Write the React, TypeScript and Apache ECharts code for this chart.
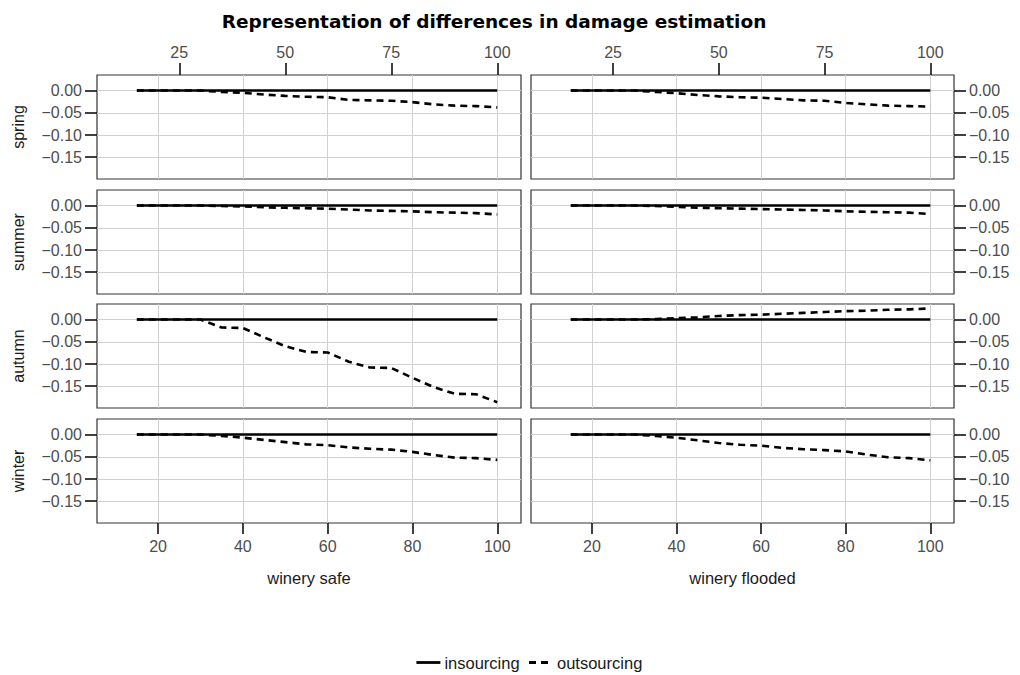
import React, { useEffect, useRef } from 'react';
import * as echarts from 'echarts';

const xValues = [15, 20, 25, 30, 35, 40, 45, 50, 55, 60, 65, 70, 75, 80, 85, 90, 95, 100];
const seasons = ['spring', 'summer', 'autumn', 'winter'];
const facets = ['winery safe', 'winery flooded'];
const seriesNames = ['insourcing', 'outsourcing'];

const insourcing = [0, 0, 0, 0, 0, 0, 0, 0, 0, 0, 0, 0, 0, 0, 0, 0, 0, 0];

const springSafe = [0, 0, 0, 0, -0.003, -0.005, -0.009, -0.012, -0.014, -0.015, -0.021, -0.022, -0.023, -0.026, -0.031, -0.034, -0.035, -0.038];
const springFlooded = [0, 0, 0, 0, -0.003, -0.006, -0.010, -0.013, -0.015, -0.016, -0.019, -0.022, -0.023, -0.028, -0.031, -0.034, -0.035, -0.036];
const summerSafe = [0, 0, 0, 0, -0.001, -0.002, -0.004, -0.005, -0.006, -0.007, -0.009, -0.011, -0.012, -0.013, -0.015, -0.016, -0.017, -0.020];
const summerFlooded = [0, 0, 0, 0, -0.001, -0.003, -0.005, -0.006, -0.007, -0.008, -0.009, -0.010, -0.011, -0.013, -0.014, -0.015, -0.016, -0.019];
const autumnSafe = [0, 0, 0, 0, -0.018, -0.019, -0.040, -0.060, -0.073, -0.074, -0.095, -0.108, -0.109, -0.131, -0.152, -0.167, -0.168, -0.186];
const autumnFlooded = [0, 0, 0, 0, 0.001, 0.003, 0.005, 0.008, 0.010, 0.011, 0.013, 0.015, 0.017, 0.019, 0.020, 0.022, 0.023, 0.025];
const winterSafe = [0, 0, 0, 0, -0.003, -0.007, -0.012, -0.017, -0.022, -0.024, -0.029, -0.032, -0.034, -0.039, -0.046, -0.052, -0.053, -0.057];
const winterFlooded = [0, 0, 0, 0, -0.003, -0.007, -0.013, -0.019, -0.023, -0.025, -0.030, -0.033, -0.035, -0.038, -0.045, -0.051, -0.053, -0.058];

const outsourcing = [
  [springSafe, springFlooded],
  [summerSafe, summerFlooded],
  [autumnSafe, autumnFlooded],
  [winterSafe, winterFlooded],
];

const xTicksBottom = [20, 40, 60, 80, 100];
const xTicksTop = [25, 50, 75, 100];
const yTicks = [0, -0.05, -0.1, -0.15];

const X_MIN = 5.6;
const X_MAX = 105.6;
const Y_MIN = -0.199;
const Y_MAX = 0.035;

const FONT = '"Liberation Sans", Arial, sans-serif';

const fmtY = (v: number) => (v < 0 ? '\u2212' : '') + Math.abs(v).toFixed(2);

export default function App() {
  const ref = useRef<HTMLDivElement>(null);
  useEffect(() => {
    document.body.style.margin = '0';
    const chart = echarts.init(ref.current!, undefined, { renderer: 'svg' });

    const rowTops = [75, 190, 304, 419];
    const colLeft = [97, 531];
    const colWidth = [424, 423];
    const panelH = 104;

    const grids: any[] = [];
    const xAxes: any[] = [];
    const yAxes: any[] = [];
    const series: any[] = [];
    const graphics: any[] = [];

    const tickLine = { color: '#111', width: 1.6 };
    const labelStyle = { color: '#4d4d4d', fontSize: 16, fontFamily: FONT };
    const gridLine = { color: '#d0d0d0', width: 1 };

    seasons.forEach((season, r) => {
      facets.forEach((facet, c) => {
        const gi = grids.length;
        grids.push({
          left: colLeft[c],
          top: rowTops[r],
          width: colWidth[c],
          height: panelH,
          show: true,
          borderColor: '#333',
          borderWidth: 1.2,
          backgroundColor: '#fff',
          containLabel: false,
          outerBoundsMode: 'none',
        });
        const bottomAxisIndex = xAxes.length;
        xAxes.push({
          type: 'value',
          gridIndex: gi,
          position: 'bottom',
          min: X_MIN,
          max: X_MAX,
          axisLine: { show: false, onZero: false },
          axisTick: { show: r === 3, customValues: xTicksBottom, length: 11, lineStyle: tickLine },
          axisLabel: { show: r === 3, customValues: xTicksBottom, margin: 15, ...labelStyle },
          splitLine: { show: true, lineStyle: gridLine },
        });
        if (r === 0) {
          xAxes.push({
            type: 'value',
            gridIndex: gi,
            position: 'top',
            min: X_MIN,
            max: X_MAX,
            axisLine: { show: false, onZero: false },
            axisTick: { show: true, customValues: xTicksTop, length: 12, lineStyle: tickLine },
            axisLabel: { show: true, customValues: xTicksTop, margin: 15, ...labelStyle },
            splitLine: { show: false },
          });
        }
        const yIndex = yAxes.length;
        yAxes.push({
          type: 'value',
          gridIndex: gi,
          position: c === 0 ? 'left' : 'right',
          min: Y_MIN,
          max: Y_MAX,
          axisLine: { show: false, onZero: false },
          axisTick: { show: true, customValues: yTicks, length: 12, lineStyle: tickLine },
          axisLabel: { show: true, customValues: yTicks, margin: 15, formatter: fmtY, ...labelStyle },
          splitLine: { show: true, lineStyle: gridLine },
        });
        series.push({
          type: 'line',
          name: seriesNames[0],
          xAxisIndex: bottomAxisIndex,
          yAxisIndex: yIndex,
          data: xValues.map((x, i) => [x, insourcing[i]]),
          symbol: 'none',
          showSymbol: false,
          lineStyle: { color: '#000', width: 2.6, type: 'solid' },
          itemStyle: { color: '#000' },
          z: 3,
        });
        series.push({
          type: 'line',
          name: seriesNames[1],
          xAxisIndex: bottomAxisIndex,
          yAxisIndex: yIndex,
          data: xValues.map((x, i) => [x, outsourcing[r][c][i]]),
          symbol: 'none',
          showSymbol: false,
          lineStyle: { color: '#000', width: 2.6, type: [7, 5] },
          itemStyle: { color: '#000' },
          z: 4,
        });
      });
      graphics.push({
        type: 'text',
        x: 18,
        y: rowTops[r] + panelH / 2,
        rotation: Math.PI / 2,
        style: {
          text: season,
          fill: '#1a1a1a',
          fontSize: 16,
          fontFamily: FONT,
          align: 'center',
          verticalAlign: 'middle',
        },
      });
    });

    facets.forEach((facet, c) => {
      graphics.push({
        type: 'text',
        x: colLeft[c] + colWidth[c] / 2,
        y: 578,
        style: {
          text: facet,
          fill: '#1a1a1a',
          fontSize: 16.5,
          fontFamily: FONT,
          align: 'center',
          verticalAlign: 'middle',
        },
      });
    });

    graphics.push({
      type: 'text',
      x: 494,
      y: 21,
      style: {
        text: 'Representation of differences in damage estimation',
        fill: '#000',
        fontSize: 18.5,
        fontWeight: 'bold',
        fontFamily: '"DejaVu Sans", sans-serif',
        align: 'center',
        verticalAlign: 'middle',
      },
    });

    chart.setOption({
      animation: false,
      backgroundColor: '#fff',
      grid: grids,
      xAxis: xAxes,
      yAxis: yAxes,
      series,
      graphic: graphics,
      legend: {
        data: seriesNames,
        top: 649,
        left: 410,
        itemWidth: 24,
        itemHeight: 14,
        itemGap: 8,
        itemStyle: { color: 'rgba(0,0,0,0)', borderColor: 'rgba(0,0,0,0)', borderWidth: 0 },
        lineStyle: { width: 2.8 },
        textStyle: { color: '#1a1a1a', fontSize: 16.5, fontFamily: FONT, padding: [0, 0, 0, -1] },
      },
    });
    return () => chart.dispose();
  }, []);
  return <div ref={ref} style={{ width: 1020, height: 675 }} />;
}
